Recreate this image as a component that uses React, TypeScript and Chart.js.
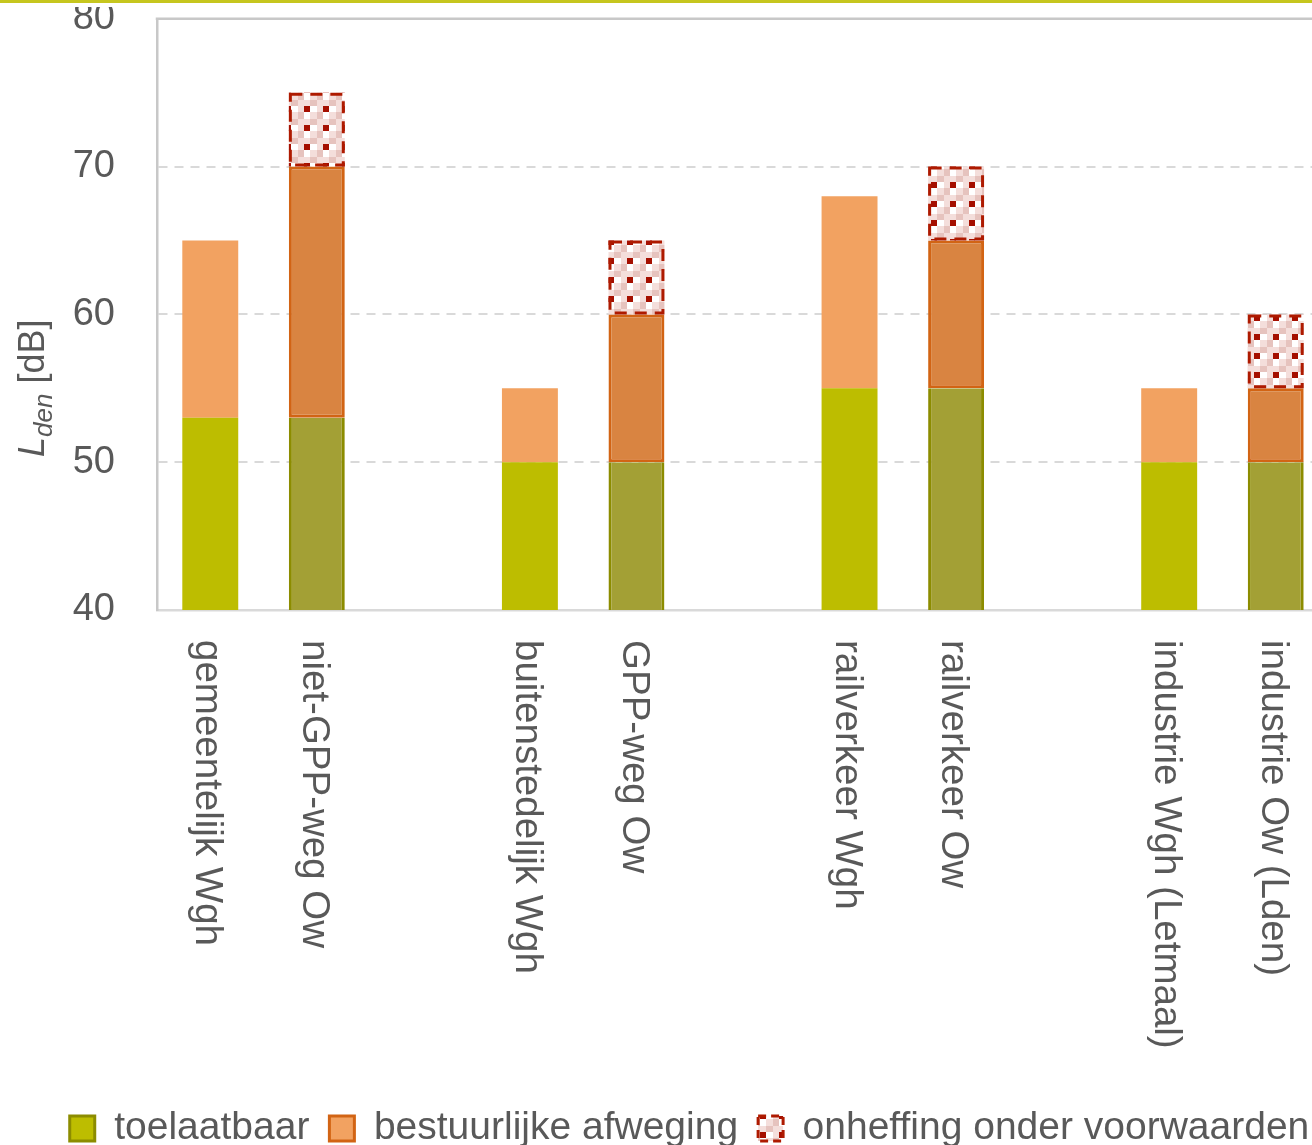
import React, { useEffect, useRef } from 'react';
import { Chart, registerables } from 'chart.js';

Chart.register(...registerables);

// ---- data ----
const categories = [
  'gemeentelijk Wgh',
  'niet-GPP-weg Ow',
  '',
  'buitenstedelijk Wgh',
  'GPP-weg Ow',
  '',
  'railverkeer Wgh',
  'railverkeer Ow',
  '',
  'industrie Wgh (Letmaal)',
  'industrie Ow (Lden)',
];
const toelaatbaar = [53, 53, null, 50, 50, null, 55, 55, null, 50, 50];
const bestuurlijkeAfweging = [12, 17, null, 5, 10, null, 13, 10, null, 5, 5];
const onheffing = [null, 5, null, null, 5, null, null, 5, null, null, 5];
const isOw = [false, true, false, false, true, false, false, true, false, false, true];
const seriesNames = ['toelaatbaar', 'bestuurlijke afweging', 'onheffing onder voorwaarden'];
const yMin = 40;
const yMax = 80;
const yStep = 10;

const FONT = '"Liberation Sans", Arial, sans-serif';
const TEXT = '#595959';

const GREEN_L = '#BDBD00';
const GREEN_D = '#A3A035';
const GREEN_B = '#8C8C00';
const ORANGE_L = '#F2A261';
const ORANGE_D = '#D98441';
const ORANGE_B = '#D26414';
const RED = '#AE1A00';

const CANVAS_W = 1400;
const CANVAS_H = 1204;
const CANVAS_TOP = -46;

function makePattern(ctx: CanvasRenderingContext2D): CanvasPattern | string {
  const c = document.createElement('canvas');
  c.width = 19;
  c.height = 19;
  const g = c.getContext('2d');
  if (!g) return '#F4DEDB';
  const b = [0, 6, 13, 19];
  const D = '#A50F00', W = '#FFFFFF', P = '#F4DEDB', M = '#E6C3BE';
  const grid = [
    [D, W, P],
    [W, P, M],
    [P, M, P],
  ];
  for (let r = 0; r < 3; r++) {
    for (let k = 0; k < 3; k++) {
      g.fillStyle = grid[r][k];
      g.fillRect(b[k], b[r], b[k + 1] - b[k], b[r + 1] - b[r]);
    }
  }
  return ctx.createPattern(c, 'repeat') || P;
}

const decorPlugin = {
  id: 'decor',
  afterDatasetsDraw(chart: any) {
    const ctx = chart.ctx as CanvasRenderingContext2D;
    const meta = chart.getDatasetMeta(2);
    ctx.save();
    ctx.strokeStyle = RED;
    ctx.lineWidth = 3;
    ctx.setLineDash([12, 8]);
    meta.data.forEach((el: any, i: number) => {
      if (onheffing[i] == null) return;
      const p = el.getProps(['x', 'y', 'base', 'width'], true);
      const left = p.x - p.width / 2;
      ctx.strokeRect(left + 1.5, p.y + 1.5, p.width - 3, p.base - p.y - 3);
    });
    ctx.restore();
  },
  afterDraw(chart: any) {
    const ctx = chart.ctx as CanvasRenderingContext2D;
    const area = chart.chartArea;
    // top border of the plot area
    ctx.save();
    ctx.strokeStyle = '#C8C8C8';
    ctx.lineWidth = 2.5;
    ctx.beginPath();
    ctx.moveTo(area.left - 1.25, area.top);
    ctx.lineTo(area.right, area.top);
    ctx.stroke();
    ctx.restore();

    // rotated category labels (reading top to bottom)
    const xs = chart.scales.x;
    const size = 38.5;
    const capH = size * 0.716;
    ctx.save();
    ctx.fillStyle = TEXT;
    ctx.font = `${size}px ${FONT}`;
    ctx.textAlign = 'left';
    ctx.textBaseline = 'alphabetic';
    categories.forEach((lab, i) => {
      if (!lab) return;
      const x = xs.getPixelForValue(i);
      ctx.save();
      ctx.translate(x - capH / 2, area.bottom + 30);
      ctx.rotate(Math.PI / 2);
      ctx.fillText(lab, 0, 0);
      ctx.restore();
    });
    ctx.restore();

    // y axis title: L_den [dB]
    ctx.save();
    ctx.fillStyle = TEXT;
    ctx.textAlign = 'left';
    ctx.textBaseline = 'alphabetic';
    ctx.translate(area.left - 113, area.bottom - 153);
    ctx.rotate(-Math.PI / 2);
    ctx.font = `italic 36px ${FONT}`;
    ctx.fillText('L', 0, 0);
    let w = ctx.measureText('L').width;
    ctx.font = `italic 26px ${FONT}`;
    ctx.fillText('den', w, 8);
    w += ctx.measureText('den').width;
    ctx.font = `36px ${FONT}`;
    ctx.fillText(' [dB]', w, 0);
    ctx.restore();
  },
};

export default function App() {
  const ref = useRef<HTMLCanvasElement | null>(null);

  useEffect(() => {
    const canvas = ref.current;
    if (!canvas) return;
    const ctx = canvas.getContext('2d');
    if (!ctx) return;
    const pattern = makePattern(ctx);

    const chart = new Chart(ctx, {
      type: 'bar',
      data: {
        labels: categories,
        datasets: [
          {
            label: seriesNames[0],
            data: toelaatbaar,
            backgroundColor: isOw.map((o) => (o ? GREEN_D : GREEN_L)),
            borderColor: isOw.map((o) => (o ? GREEN_B : 'rgba(0,0,0,0)')),
            borderWidth: isOw.map((o) => (o ? { left: 3, right: 3, top: 0, bottom: 0 } : 0)) as any,
            borderSkipped: false,
          },
          {
            label: seriesNames[1],
            data: bestuurlijkeAfweging,
            backgroundColor: isOw.map((o) => (o ? ORANGE_D : ORANGE_L)),
            borderColor: isOw.map((o) => (o ? ORANGE_B : 'rgba(0,0,0,0)')),
            borderWidth: isOw.map((o) => (o ? 3 : 0)),
            borderSkipped: false,
          },
          {
            label: seriesNames[2],
            data: onheffing,
            backgroundColor: pattern as any,
            borderWidth: 0,
          },
        ],
      },
      options: {
        animation: false,
        responsive: false,
        events: [],
        datasets: {
          bar: { barPercentage: 0.525, categoryPercentage: 1 },
        },
        layout: { padding: { left: 30, right: 51, top: 16, bottom: 0 } },
        scales: {
          x: {
            type: 'category',
            stacked: true,
            offset: true,
            grid: { display: false },
            ticks: { display: false },
            border: { display: true, color: '#D9D9D9', width: 2.5 },
            afterFit: (s: any) => {
              s.height = 479;
            },
          },
          y: {
            type: 'linear',
            stacked: true,
            min: yMin,
            max: yMax,
            ticks: {
              stepSize: yStep,
              padding: 42,
              color: TEXT,
              font: { family: FONT, size: 38 },
            },
            grid: { color: '#D9D9D9', lineWidth: 2, drawTicks: false },
            border: { display: true, color: '#C8C8C8', width: 2.5, dash: [9, 7] },
            afterFit: (s: any) => {
              s.width = 127;
            },
          },
          y2: {
            type: 'linear',
            position: 'right',
            display: true,
            grid: { display: false },
            ticks: { display: false },
            border: { display: false },
            afterFit: (s: any) => {
              s.width = 20;
            },
          },
        },
        plugins: {
          tooltip: { enabled: false },
          legend: {
            position: 'bottom',
            labels: {
              boxWidth: 25,
              boxHeight: 25,
              padding: 20,
              color: TEXT,
              font: { family: FONT, size: 39 },
              generateLabels: () => [
                {
                  text: seriesNames[0],
                  fillStyle: GREEN_L,
                  strokeStyle: GREEN_B,
                  lineWidth: 3,
                  fontColor: TEXT,
                  hidden: false,
                  datasetIndex: 0,
                },
                {
                  text: seriesNames[1],
                  fillStyle: ORANGE_L,
                  strokeStyle: ORANGE_B,
                  lineWidth: 3,
                  fontColor: TEXT,
                  hidden: false,
                  datasetIndex: 1,
                },
                {
                  text: seriesNames[2],
                  fillStyle: pattern as any,
                  strokeStyle: RED,
                  lineWidth: 3,
                  lineDash: [8, 5],
                  fontColor: TEXT,
                  hidden: false,
                  datasetIndex: 2,
                },
              ],
            },
          },
        },
      },
      plugins: [decorPlugin],
    });

    return () => {
      chart.destroy();
    };
  }, []);

  return (
    <div
      style={{
        position: 'absolute',
        left: 0,
        top: 0,
        width: 1312,
        height: 1145,
        overflow: 'hidden',
        background: '#ffffff',
      }}
    >
      <canvas
        ref={ref}
        width={CANVAS_W}
        height={CANVAS_H}
        style={{ position: 'absolute', left: 0, top: CANVAS_TOP, width: CANVAS_W, height: CANVAS_H }}
      />
      <div style={{ position: 'absolute', left: 0, top: 3, width: 1312, height: 4, background: '#ffffff' }} />
      <div style={{ position: 'absolute', left: 0, top: 0, width: 1312, height: 3, background: '#C6C61E' }} />
    </div>
  );
}
